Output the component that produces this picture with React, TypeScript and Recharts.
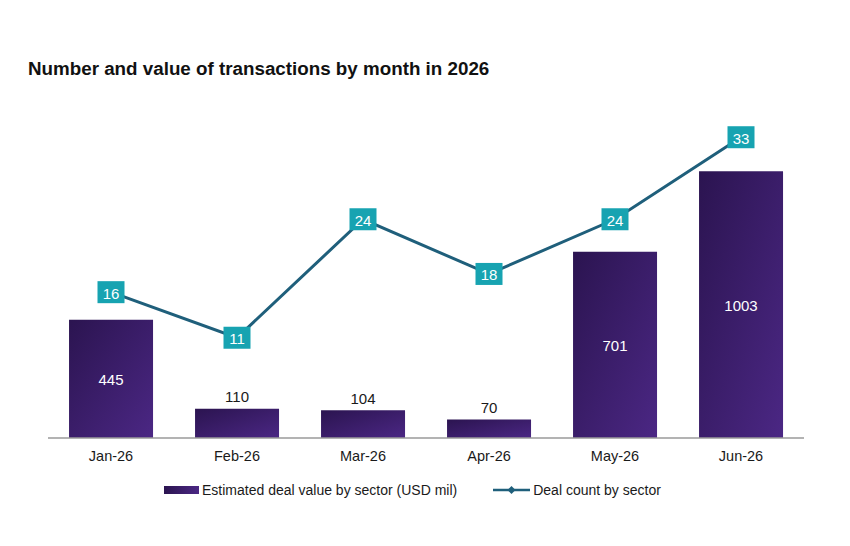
import { ComposedChart, Bar, Line, XAxis, YAxis, LabelList } from 'recharts'

const MONTHS = ['Jan-26', 'Feb-26', 'Mar-26', 'Apr-26', 'May-26', 'Jun-26']
const DEAL_VALUE = [445, 110, 104, 70, 701, 1003]
const DEAL_COUNT = [16, 11, 24, 18, 24, 33]

const LINE_COLOUR = '#1f5f7b'
const BOX_COLOUR = '#17a3b1'
const FONT = 'Arial, "Liberation Sans", Helvetica, sans-serif'

const data = MONTHS.map((m, i) => ({ month: m, value: DEAL_VALUE[i], count: DEAL_COUNT[i] }))

function BarValueLabel(props: any) {
  const { x, y, width, height, value } = props
  const inside = value > 300
  return (
    <text
      x={x + width / 2}
      y={inside ? y + height / 2 + 1 : y - 12}
      textAnchor="middle"
      dominantBaseline="central"
      fill={inside ? '#ffffff' : '#1a1a1a'}
      fontSize={15}
      fontFamily={FONT}
    >
      {value}
    </text>
  )
}

function CountBoxLabel(props: any) {
  const { x, y, value } = props
  const w = 27
  const h = 22
  return (
    <g>
      <rect x={x - w / 2} y={y - h / 2} width={w} height={h} fill={BOX_COLOUR} />
      <text
        x={x}
        y={y + 1}
        textAnchor="middle"
        dominantBaseline="central"
        fill="#ffffff"
        fontSize={15}
        fontFamily={FONT}
      >
        {value}
      </text>
    </g>
  )
}

export default function App() {
  return (
    <div style={{ position: 'absolute', left: 0, top: 0, width: 850, height: 546, background: '#fff', fontFamily: FONT }}>
      <div style={{ position: 'absolute', left: 28, top: 58, fontSize: 18.8, fontWeight: 'bold', color: '#111' }}>
        Number and value of transactions by month in 2026
      </div>
      <ComposedChart
        width={850}
        height={546}
        data={data}
        margin={{ top: 119, right: 46, bottom: 78, left: 48 }}
        barCategoryGap="16.7%"
      >
        <defs>
          <linearGradient id="barGrad" x1="0" y1="0" x2="1" y2="1">
            <stop offset="0%" stopColor="#2b1450" />
            <stop offset="100%" stopColor="#4b2784" />
          </linearGradient>
        </defs>
        <XAxis
          dataKey="month"
          axisLine={{ stroke: '#9a9a9a', strokeWidth: 1.5 }}
          tickLine={false}
          tick={{ fill: '#1a1a1a', fontSize: 14.5, fontFamily: FONT }}
          tickMargin={7}
          height={30}
        />
        <YAxis yAxisId="value" domain={[0, 1200]} hide />
        <YAxis yAxisId="count" orientation="right" domain={[0, 35]} hide />
        <Bar yAxisId="value" dataKey="value" fill="url(#barGrad)" isAnimationActive={false}>
          <LabelList dataKey="value" content={BarValueLabel} />
        </Bar>
        <Line
          yAxisId="count"
          dataKey="count"
          stroke={LINE_COLOUR}
          strokeWidth={3}
          dot={false}
          activeDot={false}
          isAnimationActive={false}
        >
          <LabelList dataKey="count" content={CountBoxLabel} />
        </Line>
      </ComposedChart>
      <div style={{ position: 'absolute', left: 164, top: 482, display: 'flex', alignItems: 'center', fontSize: 14, color: '#1a1a1a' }}>
        <span style={{ display: 'inline-block', width: 35, height: 8, background: 'linear-gradient(90deg, #2b1450, #4b2784)', marginRight: 3 }} />
        <span>Estimated deal value by sector (USD mil)</span>
        <svg width={37} height={12} style={{ marginLeft: 36, marginRight: 3 }}>
          <line x1={0} y1={6} x2={37} y2={6} stroke={LINE_COLOUR} strokeWidth={2.5} />
          <path d="M18.5 2 L22.5 6 L18.5 10 L14.5 6 Z" fill={LINE_COLOUR} />
        </svg>
        <span>Deal count by sector</span>
      </div>
    </div>
  )
}
